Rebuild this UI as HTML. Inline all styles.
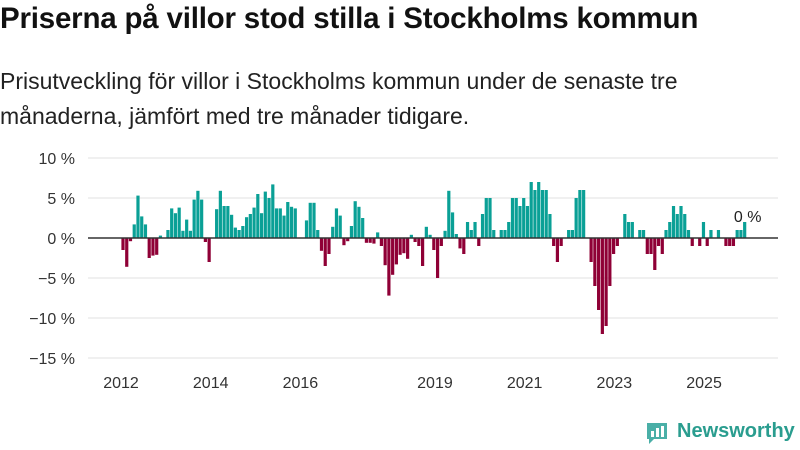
<!DOCTYPE html>
<html><head><meta charset="utf-8"><style>
body{margin:0;width:800px;height:450px;background:#fff;font-family:"Liberation Sans",sans-serif;overflow:hidden;position:relative}
#title{position:absolute;left:0;top:2px;font-size:29.5px;font-weight:bold;color:#111;white-space:nowrap;letter-spacing:-0.2px}
#sub{position:absolute;left:0;top:64px;font-size:23px;line-height:35px;color:#222;white-space:nowrap}
svg{position:absolute;left:0;top:0}
</style></head><body>
<div id="title">Priserna på villor stod stilla i Stockholms kommun</div>
<div id="sub">Prisutveckling för villor i Stockholms kommun under de senaste tre<br>månaderna, jämfört med tre månader tidigare.</div>
<svg id="chart" width="800" height="450"></svg>
<div style="position:absolute;left:645px;top:420px;height:26px;">
<svg width="24" height="26" style="position:absolute;left:0;top:0"><path d="M2 3h20v16H9l-5 5v-5H2z" fill="#2aa198" opacity="0.85"/><rect x="6" y="11" width="3" height="6" fill="#fff"/><rect x="11" y="8" width="3" height="9" fill="#fff"/><rect x="16" y="6" width="3" height="11" fill="#fff"/></svg>
<span style="position:absolute;left:32px;top:0;font-size:20px;font-weight:bold;color:#2a9d8f;white-space:nowrap">Newsworthy</span>
</div>
<script>
const values=[-1.5,-3.6,-0.4,1.7,5.3,2.7,1.7,-2.5,-2.2,-2.1,0.3,0,1.0,3.7,3.1,3.8,0.9,2.3,0.9,4.8,5.9,4.8,-0.5,-3.0,0,3.6,5.9,4.0,4.0,2.9,1.3,1.0,1.5,2.6,3.0,3.8,5.5,3.1,5.8,5.0,6.7,3.7,3.7,2.8,4.5,3.9,3.7,0,0,2.2,4.4,4.4,1.0,-1.6,-3.5,-2.0,
1.4,3.7,2.8,
-0.9,-0.4,1.5,4.6,3.9,2.5,-0.6,-0.6,-0.7,0.7,-1.0,-3.4,-7.2,-4.6,-3.3,-2.1,-1.9,-2.6,0.4,-0.5,-1.0,-3.5,1.4,0.4,-1.5,-5.0,-1.0,0.9,5.9,3.2,0.5,-1.3,-2.0,2.0,1.0,2.0,-1.0,3.0,5.0,5.0,1.0,0,1.0,1.0,2.0,5.0,5.0,4.0,5.0,4.0,7.0,6.0,7.0,6.0,6.0,3.0,
-1,-3,-1,
0,1,1,5,6,6,0,-3,-6,-9,-12,-11,-6,-2,-1,0,3,2,2,0,1,1,-2,-2,-4,-1,-2,1,2,4,3,4,3,1,-1,0,-1,2,-1,1,0,1,0,-1,-1,-1,1,1,2];
const yTicks=[10,5,0,-5,-10,-15];
const yTickLabels=["10 %","5 %","0 %","−5 %","−10 %","−15 %"];
const xTickYears=[2012,2014,2016,2019,2021,2023,2025];
const startYear=2012;
const lastLabel="0 %";
const NS="http://www.w3.org/2000/svg";
const svg=document.getElementById('chart');
const y=v=>238-v*8;
const x=i=>123+i*3.745;
const xYear=yr=>121+(yr-startYear)*44.85;
function mk(t,a){const e=document.createElementNS(NS,t);for(const k in a)e.setAttribute(k,a[k]);svg.appendChild(e);return e;}
yTicks.forEach((t,k)=>{
 if(t!==0){const l=mk('line',{x1:88,x2:778,y1:y(t),y2:y(t),stroke:'#e2e2e2','stroke-width':1});
 
 }
 const tx=mk('text',{x:75,y:y(t)+6,'text-anchor':'end','font-size':16,fill:'#333','font-family':'Liberation Sans, sans-serif'});
 tx.textContent=yTickLabels[k];
 
 
});
xTickYears.forEach(yr=>{
 const tx=mk('text',{x:xYear(yr),y:388,'text-anchor':'middle','font-size':16,fill:'#333','font-family':'Liberation Sans, sans-serif'});
 tx.textContent=yr;
 
 
});
values.forEach((v,i)=>{
 const r=mk('rect',{x:x(i)-1.6,width:3.2,y:Math.min(y(v),y(0)),height:Math.abs(y(v)-y(0)),fill:v>=0?'#0aa096':'#8f0036'});
 
 
});
const z=mk('line',{x1:88,x2:778,y1:y(0),y2:y(0),stroke:'#333','stroke-width':1.6});


const lb=mk('text',{x:x(values.length-1)+3,y:222,'text-anchor':'middle','font-size':16,fill:'#222','font-family':'Liberation Sans, sans-serif'});
lb.textContent=lastLabel;


</script>
</body></html>
